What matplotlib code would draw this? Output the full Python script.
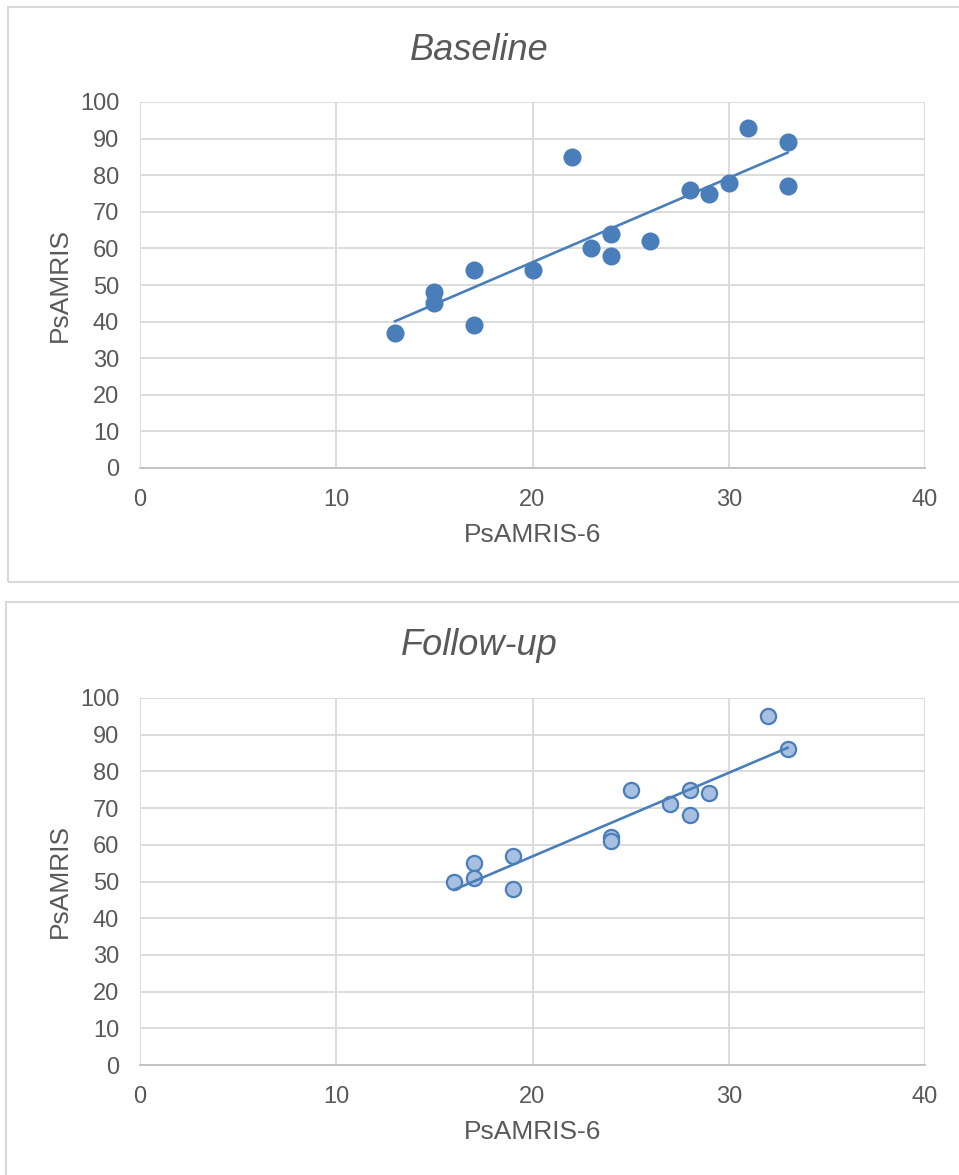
import numpy as np
import matplotlib.pyplot as plt
from matplotlib.patches import Rectangle

plt.rcParams['font.family'] = ['Liberation Sans', 'DejaVu Sans']

# baseline data
base_x = [13, 15, 15, 17, 17, 20, 22, 23, 24, 24, 26, 28, 29, 30, 31, 33, 33]
base_y = [37, 48, 45, 54, 39, 54, 85, 60, 64, 58, 62, 76, 75, 78, 93, 89, 77]

# follow-up data
fu_x = [16, 17, 17, 19, 19, 24, 24, 25, 27, 28, 28, 29, 32, 33]
fu_y = [50, 55, 51, 57, 48, 62, 61, 75, 71, 75, 68, 74, 95, 86]

titles = ["Baseline", "Follow-up"]
xticks = [0, 10, 20, 30, 40]
yticks = list(range(0, 101, 10))

txt = '#595959'
blue = '#4a7ebb'
W, H = 959, 1175

fig = plt.figure(figsize=(W/100, H/100), dpi=100)

# panel frames
fig.patches.append(Rectangle((8/W, 1-582/H), 960/W, 575/H, transform=fig.transFigure,
                             fill=False, edgecolor='#d9d9d9', linewidth=1.5))
fig.patches.append(Rectangle((6/W, 1-1180/H), 960/W, 578/H, transform=fig.transFigure,
                             fill=False, edgecolor='#d9d9d9', linewidth=1.5))

def panel(rect, xs, ys, title, title_y, fill, edge, ms):
    ax = fig.add_axes(rect)
    ax.scatter(xs, ys, s=ms, color=fill, edgecolors=edge, linewidths=1.6, zorder=3)
    k, b = np.polyfit(xs, ys, 1)
    xx = np.array([min(xs), max(xs)])
    ax.plot(xx, k*xx + b, color=blue, linewidth=1.9, zorder=4)
    ax.set_xlim(0, 40)
    ax.set_ylim(0, 100)
    ax.set_xticks(xticks)
    ax.set_yticks(yticks)
    ax.grid(True, color='#d9d9d9', linewidth=1.3)
    ax.set_axisbelow(True)
    for s in ['top', 'right', 'left']:
        ax.spines[s].set_visible(False)
    ax.spines['bottom'].set_color('#bfbfbf')
    ax.spines['bottom'].set_linewidth(1.3)
    ax.tick_params(length=0, labelsize=17, labelcolor=txt)
    ax.tick_params(axis='y', pad=15)
    ax.tick_params(axis='x', pad=15)
    ax.set_xlabel("PsAMRIS-6", fontsize=19, color=txt, labelpad=9)
    ax.set_ylabel("PsAMRIS", fontsize=19, color=txt, labelpad=6)
    fig.text(0.5, title_y, title, fontsize=26, style='italic', color=txt,
             ha='center', va='center')
    return ax

panel([140/W, 1-468/H, 785/W, 366/H], base_x, base_y, titles[0], 1-50/H,
      blue, blue, 130)
panel([140/W, 1-1065/H, 785/W, 367/H], fu_x, fu_y, titles[1], 1-646/H,
      '#a7bfe0', blue, 120)

fig.savefig('out.png', dpi=100)
